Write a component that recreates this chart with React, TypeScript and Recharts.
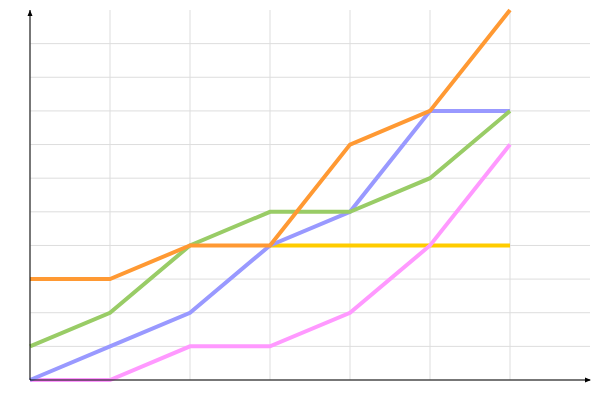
import React from "react";
import { LineChart, Line, XAxis, YAxis, CartesianGrid } from "recharts";

const steps = [0, 1, 2, 3, 4, 5, 6];
const orange = [3, 3, 4, 4, 7, 8, 11];
const green = [1, 2, 4, 5, 5, 6, 8];
const blue = [0, 1, 2, 4, 5, 8, 8];
const pink = [0, 0, 1, 1, 2, 4, 7];
const yellow = [null, null, null, 4, 4, 4, 4];

const xGrid = [0, 1, 2, 3, 4, 5, 6];
const yGrid = [0, 1, 2, 3, 4, 5, 6, 7, 8, 9, 10];

const data = steps.map((x, i) => ({
  x,
  orange: orange[i],
  green: green[i],
  blue: blue[i],
  pink: pink[i],
  yellow: yellow[i],
}));

const noTick = () => <g />;

export default function App() {
  return (
    <div style={{ position: "absolute", left: 0, top: 0, width: 600, height: 400, background: "#fff" }}>
      <LineChart width={600} height={400} data={data} margin={{ top: 10, right: 10, bottom: 0, left: 0 }}>
        <CartesianGrid stroke="#dddddd" strokeWidth={1} horizontalValues={yGrid} verticalValues={xGrid} />
        <XAxis
          dataKey="x"
          type="number"
          domain={[0, 7]}
          ticks={xGrid}
          tick={noTick}
          tickLine={false}
          height={20}
          axisLine={{ stroke: "#000", strokeWidth: 1 }}
        />
        <YAxis
          type="number"
          domain={[0, 11]}
          ticks={yGrid}
          tick={noTick}
          tickLine={false}
          width={30}
          axisLine={{ stroke: "#000", strokeWidth: 1 }}
        />
        <Line dataKey="yellow" stroke="#ffcc00" strokeWidth={4} dot={false} isAnimationActive={false} type="linear" />
        <Line dataKey="pink" stroke="#ff99ff" strokeWidth={4} dot={false} isAnimationActive={false} type="linear" />
        <Line dataKey="blue" stroke="#9999ff" strokeWidth={4} dot={false} isAnimationActive={false} type="linear" />
        <Line dataKey="green" stroke="#99cc66" strokeWidth={4} dot={false} isAnimationActive={false} type="linear" />
        <Line dataKey="orange" stroke="#ff9933" strokeWidth={4} dot={false} isAnimationActive={false} type="linear" />
      </LineChart>
      <svg width={600} height={400} style={{ position: "absolute", left: 0, top: 0, pointerEvents: "none" }}>
        <polygon points="30,10 27.5,16 32.5,16" fill="#000" />
        <polygon points="591,380 585,377.5 585,382.5" fill="#000" />
      </svg>
    </div>
  );
}
